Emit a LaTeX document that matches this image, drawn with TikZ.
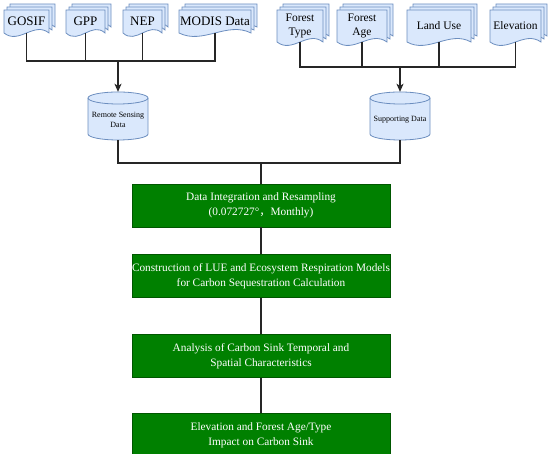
\documentclass[tikz,border=0pt]{standalone}
\usepackage{fontspec}
\setmainfont{Liberation Serif}
\newfontfamily\cjk{Noto Sans CJK SC}
\usetikzlibrary{positioning, arrows.meta}

\definecolor{docfill}{HTML}{DAE8FC}
\definecolor{docdraw}{HTML}{6C8EBF}
\definecolor{boxfill}{HTML}{008000}
\definecolor{boxdraw}{HTML}{005700}

\newcommand{\bigdoc}{\fontsize{13}{15}\selectfont}
\newcommand{\smalldoc}{\fontsize{11.5}{14}\selectfont}

% stacked document: name, centre x, centre y, width, height, font, text
\newcommand{\docnode}[7]{%
  \foreach \off in {6,3,0}{%
    \draw[docpage] ({#2-#4/2+\off},{#3+#5/2+\off}) -- ({#2+#4/2+\off},{#3+#5/2+\off})
      -- ({#2+#4/2+\off},{#3-#5/2+\off})
      .. controls ({#2+#4/6+\off},{#3-#5/2+\off+12}) and ({#2-#4/6+\off},{#3-#5/2+\off-12})
      .. ({#2-#4/2+\off},{#3-#5/2+\off}) -- cycle;}
  \node[doctext, font=#6, minimum width=#4pt, minimum height=#5pt] (#1) at (#2,#3) {#7};}

% data store: name, centre x, centre y, text
\newcommand{\storenode}[4]{%
  \draw[docpage] ({#2-30},{#3+18}) -- ({#2-30},{#3-18})
    arc[start angle=180, end angle=360, x radius=30pt, y radius=6pt] -- ({#2+30},{#3+18})
    arc[start angle=0, end angle=180, x radius=30pt, y radius=6pt] -- cycle;
  \draw[docpage, fill=none] ({#2-30},{#3+18}) arc[start angle=180, end angle=360, x radius=30pt, y radius=6pt];
  \node[minimum width=60pt, minimum height=48pt, inner sep=0pt] (#1) at (#2,#3) {};
  \node[storetext] (#1-text) at (#2,{#3-4}) {#4};}

\begin{document}
\begin{tikzpicture}[x=1pt, y=1pt,
    docpage/.style={draw=docdraw, fill=docfill, line width=0.8pt},
    doctext/.style={inner sep=0pt, align=center},
    storetext/.style={font=\fontsize{8}{9.5}\selectfont, align=center, inner sep=0pt},
    greenbox/.style={draw=boxdraw, fill=boxfill, text=white, line width=0.8pt, minimum width=258pt, minimum height=43pt,
                     align=center, inner sep=0pt, font=\fontsize{11.3}{15}\selectfont},
    conn/.style={draw=black!85, line width=1.2pt},
    connarrow/.style={conn, -{Stealth[length=8pt, width=7pt, inset=2pt]}},]
    \useasboundingbox (0,0) rectangle (550,454);
    % remote sensing sources
    \docnode{gosif}{26.5}{432.5}{45}{23}{\bigdoc}{GOSIF}
    \docnode{gpp}{85.5}{432.5}{39}{23}{\bigdoc}{GPP}
    \docnode{nep}{142.5}{432.5}{39}{23}{\bigdoc}{NEP}
    \docnode{modis}{215}{432.5}{72}{23}{\bigdoc}{MODIS Data}
    % supporting sources
    \docnode{ftype}{300}{428}{46}{32}{\smalldoc}{Forest\\Type}
    \docnode{fage}{362}{428}{50}{32}{\smalldoc}{Forest\\Age}
    \docnode{landuse}{439}{428}{64}{32}{\smalldoc}{Land Use}
    \docnode{elev}{515.5}{428}{51}{32}{\smalldoc}{Elevation}
    % data stores
    \storenode{rs}{118}{338}{Remote Sensing\\Data}
    \storenode{sd}{400}{338}{Supporting Data}
    % workflow
    \node[greenbox] (integrate)                          at (261,248.5) {Data Integration and Resampling\\(0.072727°{\cjk ，}Monthly)};
    \node[greenbox] (model)     [below=27pt of integrate]               {Construction of LUE and Ecosystem Respiration Models\\for Carbon Sequestration Calculation};
    \node[greenbox] (pattern)   [below=36pt of model]                   {Analysis of Carbon Sink Temporal and\\Spatial Characteristics};
    \node[greenbox] (impact)    [below=35pt of pattern]                 {Elevation and Forest Age/Type\\Impact on Carbon Sink};
    % lines
    \coordinate (rsbus)   at (118,393);
    \coordinate (sdbus)   at (400,387);
    \coordinate (mainbus) at (261,291);
    \draw[conn] (gosif.south) |- (rsbus) -| (modis.south);
    \draw[conn] (gpp.south) -- (gpp.south |- rsbus);
    \draw[conn] (nep.south) -- (nep.south |- rsbus);
    \draw[connarrow] (rsbus) -- (rs.north);
    \draw[conn] (ftype.south) |- (sdbus) -| (elev.south);
    \draw[conn] (fage.south) -- (fage.south |- sdbus);
    \draw[conn] (landuse.south) -- (landuse.south |- sdbus);
    \draw[connarrow] (sdbus) -- (sd.north);
    \draw[conn] (rs.south) |- (mainbus) -| (sd.south);
    \draw[conn] (mainbus) -- (integrate.north);
    \draw[conn] (integrate.south) -- (model.north);
    \draw[conn] (model.south) -- (pattern.north);
    \draw[conn] (pattern.south) -- (impact.north);
\end{tikzpicture}
\end{document}
